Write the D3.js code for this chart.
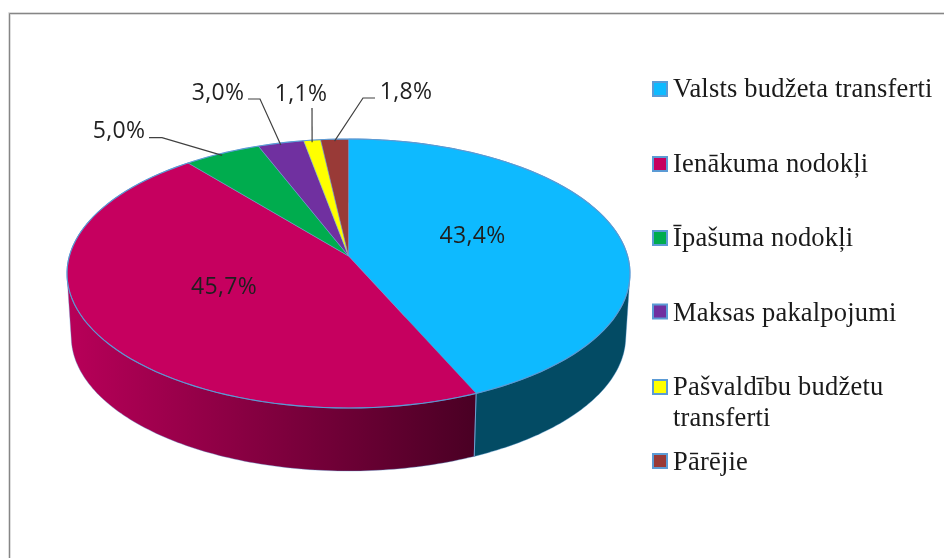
<!DOCTYPE html>
<html><head><meta charset="utf-8">
<script src="https://cdn.jsdelivr.net/npm/d3@7/dist/d3.min.js"></script>
<style>html,body{margin:0;padding:0;background:#fff}svg{display:block;filter:blur(0.35px)}</style>
</head><body><svg id="c" width="944" height="558"></svg>
<script>
const categories = ["Valsts budžeta transferti","Ienākuma nodokļi","Īpašuma nodokļi","Maksas pakalpojumi","Pašvaldību budžetu transferti","Pārējie"];
const shares = [43.4,45.7,5.0,3.0,1.1,1.8];
const shareLabels = ["43,4%","45,7%","5,0%","3,0%","1,1%","1,8%"];
const sliceColors = ["#0EBAFF","#C6005F","#00AC4E","#7030A0","#FFFF00","#993A37"];
const legendLines = [["Valsts budžeta transferti"],["Ienākuma nodokļi"],["Īpašuma nodokļi"],["Maksas pakalpojumi"],["Pašvaldību budžetu","transferti"],["Pārējie"]];

const svg = d3.select("#c");
const cx=348.5, apexY=256, topY=139, botY=408, depth=63, bottomScale=0.985;
// perspective projection of the unit circle
const k=(2*apexY-topY-botY)/(botY-topY);
const A=botY*(1+k)-apexY;
const R=281.5*Math.sqrt(1-k*k);
function proj(a,drop){
  const u=Math.sin(a), v=-Math.cos(a), den=1+k*v;
  const s=drop?bottomScale:1;
  return [cx+s*R*u/den,(v*A+apexY)/den+(drop?depth:0)];
}
const pie=d3.pie().sort(null).value(d=>d);
const arcs=pie(shares);
const apex=[cx,apexY];
const line=d3.line();
const samples=(a0,a1,drop)=>d3.range(0,161).map(i=>proj(a0+(a1-a0)*i/160,drop));

// frame
svg.append("path").attr("d","M9.5,558V13.5H944").attr("fill","none").attr("stroke","#d0d0d0").attr("stroke-width",2.4);
svg.append("path").attr("d","M9.5,558V13.5H944").attr("fill","none").attr("stroke","#868686").attr("stroke-width",1);

// side gradient
const defs=svg.append("defs");
const g=defs.append("linearGradient").attr("id","side2").attr("gradientUnits","userSpaceOnUse")
  .attr("x1",67).attr("x2",474).attr("y1",0).attr("y2",0);
g.append("stop").attr("offset",0).attr("stop-color","#B80059");
g.append("stop").attr("offset",1).attr("stop-color","#4A0024");

const sideFills=["#034B64","url(#side2)"];
arcs.slice(0,2).forEach((d,i)=>{
  const hull=d3.polygonHull(samples(d.startAngle,d.endAngle,false).concat(samples(d.startAngle,d.endAngle,true)));
  svg.append("path").attr("d",line(hull)+"Z").attr("fill",sideFills[i])
    .attr("stroke","#5B9BD5").attr("stroke-width",0.6).attr("stroke-opacity",.6);
});
// seam between the two visible sides
const sa=arcs[1].startAngle;
svg.append("path").attr("d",line([proj(sa,false),proj(sa,true)])).attr("stroke","#6E9FCF").attr("stroke-width",1).attr("fill","none");
// top faces
arcs.forEach((d,i)=>{
  const pts=[apex].concat(samples(d.startAngle,d.endAngle,false));
  svg.append("path").attr("d",line(pts)+"Z").attr("fill",sliceColors[i])
    .attr("stroke","#6E9FD8").attr("stroke-width",0.5).attr("stroke-linejoin","round");
});
svg.append("path").attr("d",line(samples(0,2*Math.PI,false))+"Z").attr("fill","none").attr("stroke","#5B9BD5").attr("stroke-width",1.1);

// data labels
const labelFont="Open Sans, sans-serif";
const labelSize=23, labelColor="#1f1f1f";
const inside=[[472.5,243],[224,294]];
[0,1].forEach(i=>svg.append("text").attr("x",inside[i][0]).attr("y",inside[i][1])
  .attr("text-anchor","middle").attr("font-family",labelFont).attr("font-size",labelSize).attr("letter-spacing",0.3).attr("fill",labelColor).text(shareLabels[i]));
// outside labels: text anchor + leader elbow; the tip comes from the slice itself
const outside=[
 {i:2,x:119,y:138,elbow:[[149,137.7],[162,137.7]]},
 {i:3,x:218,y:100,elbow:[[248,99],[260,99]]},
 {i:4,x:301,y:101,elbow:[[312,108]]},
 {i:5,x:406,y:99,elbow:[[375,98],[363,98]]}];
outside.forEach(o=>{
  const d=arcs[o.i], mid=(d.startAngle+d.endAngle)/2, tip=proj(mid,false);
  const t=[tip[0],tip[1]+2];
  svg.append("path").attr("d",line(o.elbow.concat([t]))).attr("fill","none").attr("stroke","#404040").attr("stroke-width",1.2);
  svg.append("text").attr("x",o.x).attr("y",o.y).attr("text-anchor","middle").attr("font-family",labelFont)
    .attr("font-size",labelSize).attr("letter-spacing",0.3).attr("fill",labelColor).text(shareLabels[o.i]);
});

// legend
const baselines=[97,172,246,321,395,470];
const swatchY=[89,164,238,311.5,387,461];
categories.forEach((name,i)=>{
  svg.append("rect").attr("x",653).attr("y",swatchY[i]-7).attr("width",14).attr("height",14)
    .attr("fill",sliceColors[i]).attr("stroke","#5B9BD5").attr("stroke-width",2);
  const t=svg.append("text").attr("x",673).attr("y",baselines[i]).attr("font-family","Liberation Serif, serif")
    .attr("font-size",26.5).attr("letter-spacing",0.2).attr("fill","#1a1a1a");
  legendLines[i].forEach((l,j)=>t.append("tspan").attr("x",673).attr("dy",j?31:0).text(l));
});
</script></body></html>
